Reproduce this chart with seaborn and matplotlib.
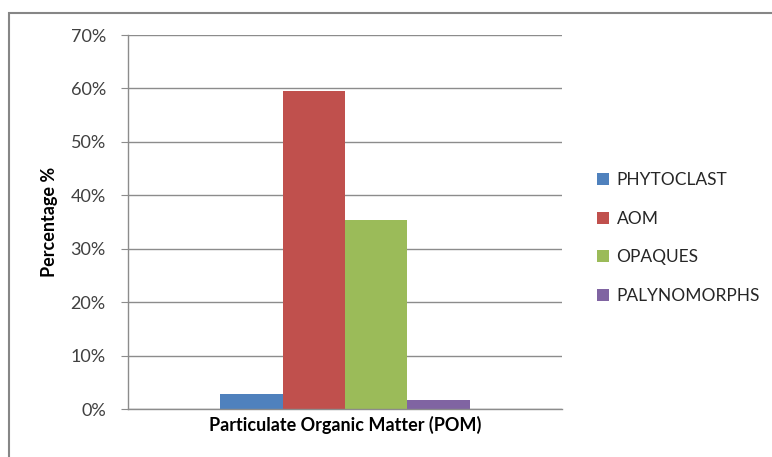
import matplotlib
matplotlib.use("Agg")
import matplotlib.pyplot as plt
import seaborn as sns
import pandas as pd
from matplotlib.patches import Rectangle
from matplotlib.ticker import PercentFormatter

category = ["Particulate Organic Matter (POM)"]
series = ["PHYTOCLAST", "AOM", "OPAQUES", "PALYNOMORPHS"]
values = [2.8, 59.5, 35.3, 1.7]
colors = ["#4F81BD", "#C0504D", "#9BBB59", "#8064A2"]
yticks = [0, 10, 20, 30, 40, 50, 60, 70]

df = pd.DataFrame({"cat": category * len(series), "series": series, "value": values})

sns.set_style("white")
plt.rcParams["font.family"] = ["Lato", "DejaVu Sans"]

W, H = 772, 457
fig = plt.figure(figsize=(W / 100, H / 100), dpi=100)
ax = fig.add_axes([128 / W, (H - 409) / H, (562 - 128) / W, (409 - 35) / H])

sns.barplot(data=df, x="cat", y="value", hue="series", hue_order=series,
            palette=colors, width=0.574, saturation=1, ax=ax, legend=True,
            edgecolor="none")

ax.set_xlim(-0.5, 0.5)
ax.set_ylim(0, 70)
ax.set_yticks(yticks)
ax.yaxis.set_major_formatter(PercentFormatter(decimals=0))
ax.set_xticks([])
ax.grid(axis="y", color="#8C8C8C", linewidth=1)
ax.set_axisbelow(True)
for s in ["top", "right"]:
    ax.spines[s].set_visible(False)
for s in ["left", "bottom"]:
    ax.spines[s].set_color("#8C8C8C")
    ax.spines[s].set_linewidth(1)
ax.tick_params(axis="y", left=True, length=5, color="#8C8C8C", labelsize=13,
               labelcolor="#404040", pad=11)

ax.set_ylabel("Percentage %", fontsize=13, fontweight="bold", color="black", labelpad=9)
ax.set_xlabel("Particulate Organic Matter (POM)", fontsize=13, fontweight="bold",
              color="black", labelpad=5)

handles, labels = ax.get_legend_handles_labels()
ax.legend(handles, labels, loc="center left", bbox_to_anchor=(581 / W, (H - 238) / H),
          bbox_transform=fig.transFigure, frameon=False, fontsize=12.5,
          handlelength=0.7, handleheight=0.7, handletextpad=0.45, labelspacing=1.3,
          labelcolor="#262626")

fig.patches.append(Rectangle((9 / W, -0.1), 1.2, (H - 13) / H + 0.1,
                             transform=fig.transFigure, fill=False,
                             edgecolor="#868686", linewidth=1.5))

fig.savefig("out.png", dpi=100)
